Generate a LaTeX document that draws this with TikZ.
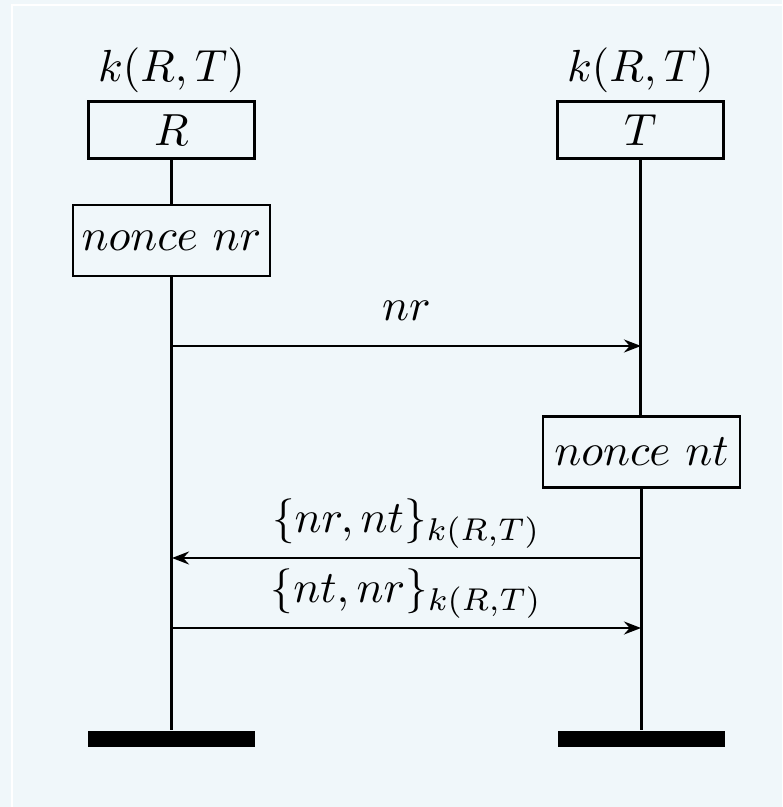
\documentclass[tikz,border=0pt]{standalone}
\usepackage{amsmath}
\usepackage{xcolor}
\usepackage{tikz}
\usetikzlibrary{arrows.meta,positioning}

\definecolor{paper}{RGB}{240,247,250}

\begin{document}
\begin{tikzpicture}[
    x=0.2222pt, y=-0.2222pt,
    line width=0.5pt,
    >={Stealth[length=3.8pt, width=2.9pt, inset=1.3pt]},
    inst/.style={draw, minimum width=36.9pt, minimum height=12.7pt, inner sep=0pt},
    act/.style={draw, minimum width=43.8pt, minimum height=15.8pt, inner sep=0pt},
    stopbar/.style={fill=black, minimum width=37.1pt, minimum height=3.6pt, inner sep=0pt},
    msg/.style={->},
    msglbl/.style={anchor=base, yshift=5.7pt}
]
    % page and background
    \useasboundingbox (0,0) rectangle (782,807);
    \fill[paper] (0,0) rectangle (782,807);
    \draw[white, line width=0.4pt] (12,5) rectangle (800,830);

    % instances
    \node[inst] (R) at (171.5,130) {$R$};
    \node[inst] (T) at (640.5,130) {$T$};
    \node[above=-1.8pt of R] (keyR) {$k(R,T)$};
    \node[above=-1.8pt of T] (keyT) {$k(R,T)$};

    % actions
    \node[act] (NR) at (171.5,240.5) {$nonce\ nr$};
    \node[act] (NT) at (641.5,452) {$nonce\ nt$};

    % ends
    \node[stopbar] (endR) at (171.5,739) {};
    \node[stopbar] (endT) at (641.5,739) {};

    % lifelines
    \draw (R) -- (NR);
    \draw (NR) -- (endR);
    \draw (T.south) -- (T.south |- NT.north);
    \draw (NT) -- (endT);

    % messages
    \coordinate (m1a) at (172,346);
    \coordinate (m1b) at (641,346);
    \coordinate (m2a) at (641,558);
    \coordinate (m2b) at (172,558);
    \coordinate (m3a) at (172,628);
    \coordinate (m3b) at (641,628);

    \draw[msg] (m1a) -- node[msglbl] {$nr$} (m1b);
    \draw[msg] (m2a) -- node[msglbl] {$\{nr,nt\}_{k(R,T)}$} (m2b);
    \draw[msg] (m3a) -- node[msglbl] {$\{nt,nr\}_{k(R,T)}$} (m3b);
\end{tikzpicture}
\end{document}
